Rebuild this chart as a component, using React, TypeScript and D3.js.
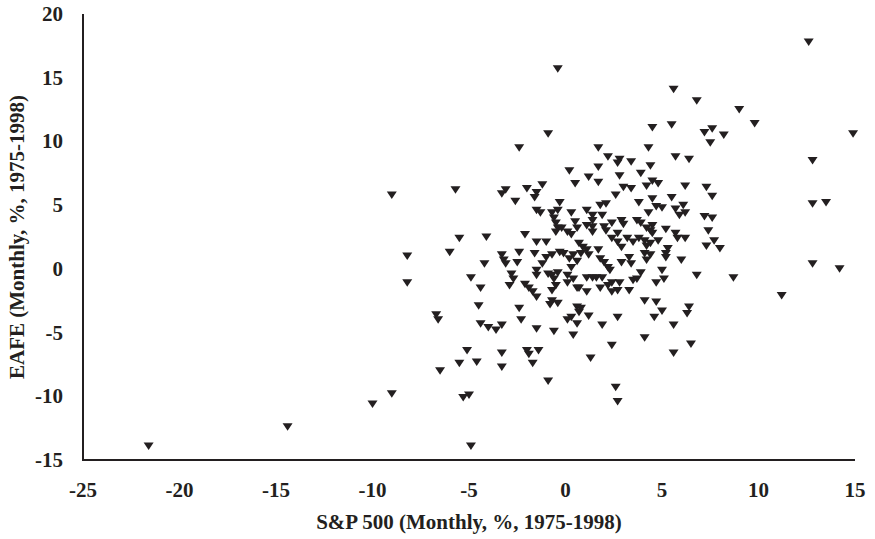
import React from 'react';
import * as d3 from 'd3';

// S&P 500 monthly return (%), one entry per month
const sp500: number[] = [
  -21.6, -14.4, -10.0, -9.0, -9.0, -8.2, -8.2, -6.7, -6.6, -6.5,
  -5.7, -5.5, -6.0, -5.5, -5.1, -5.3, -5.0, -4.9, -4.9, -4.4,
  -4.5, -4.1, -4.2, -4.4, -4.0, -3.6, -3.3, -4.6, -3.3, -3.3,
  -2.0, -1.9, -1.4, -1.7, -0.9, -0.4, -0.9, -2.4, 0.2, 0.5,
  -3.1, -3.3, -2.0, -1.2, -1.5, -1.6, -2.6, -0.3, -1.5, -1.3,
  -0.7, -0.4, -0.6, 0.3, 0.5, -0.5, -0.4, -0.5, -0.2, 0.1,
  0.3, 0.6, -2.1, -1.5, -1.0, -3.3, -3.2, -3.1, -2.4, -2.5,
  -1.6, -1.0, -0.7, -0.3, -0.1, 0.2, 0.4, 0.6, -1.2, -1.5,
  -1.5, -2.8, -2.7, -2.9, -2.1, -1.9, -1.7, -0.9, -0.7, -0.4,
  -0.6, -0.5, -0.7, 0.1, 0.3, 0.4, 0.1, 0.6, -1.5, -0.7,
  -0.4, -0.8, -2.4, 0.6, -2.3, -1.5, -0.6, 0.1, 0.3, 0.6,
  0.4, 1.8, 2.1, 1.1, 1.4, 1.4, 1.1, 1.4, 1.4, 1.9,
  2.4, 2.0, 2.1, 2.9, 3.0, 3.7, 3.9, 4.3, 4.5, 4.4,
  4.5, 4.2, 3.8, 4.7, 5.0, 5.7, 5.9, 6.1, 6.2, 5.2,
  5.7, 5.8, 6.2, 7.2, 7.6, 7.4, 7.7, 7.3, 8.0, 2.7,
  2.7, 2.4, 2.9, 3.2, 3.5, 3.8, 4.1, 4.2, 4.4, 4.8,
  5.3, 5.2, 5.2, 0.7, 0.9, 1.1, 0.8, 1.2, 1.8, 2.0,
  2.2, 2.3, 1.7, 2.9, 3.3, 3.4, 4.1, 4.2, 4.4, 6.0,
  3.9, 5.0, 5.1, 6.8, 8.7, 1.1, 1.4, 1.6, 1.9, 3.5,
  3.7, 4.7, 0.7, 1.1, 1.8, 2.2, 2.4, 2.4, 2.7, 2.8,
  3.3, 4.1, 4.7, 5.0, 6.4, 6.3, 0.8, 1.2, 2.7, 4.6,
  1.9, 5.6, 4.1, 0.7, 2.4, 1.3, 5.6, 6.5, 2.6, 2.7,
  5.6, 6.8, 9.0, 9.8, 4.5, 5.5, 7.2, 7.6, 8.2, 7.5,
  1.7, 4.3, 2.2, 2.8, 2.7, 3.4, 5.7, 6.4, 1.7, 4.4,
  3.9, 2.8, 1.2, 1.7, 3.0, 3.4, 4.2, 4.5, 4.8, 6.2,
  7.3, 7.6, 2.6, 4.5, 5.5, 12.6, 14.9, 12.8, 12.8, 13.5,
  12.8, 14.2, 11.2
];

// EAFE monthly return (%), paired with sp500
const eafe: number[] = [
  -13.9, -12.4, -10.6, -9.8, 5.8, 1.0, -1.1, -3.6, -4.0, -8.0,
  6.2, 2.4, 1.3, -7.4, -6.4, -10.1, -9.9, -13.9, -0.7, -1.5,
  -2.9, 2.5, 0.4, -4.3, -4.6, -4.8, -4.4, -7.3, -6.6, -7.7,
  -6.4, -6.7, -6.4, -7.4, -8.8, 15.7, 10.6, 9.5, 7.7, 6.7,
  6.2, 5.9, 6.3, 6.6, 6.0, 5.6, 5.3, 5.2, 4.6, 4.4,
  4.4, 4.6, 4.0, 4.4, 3.7, 3.6, 3.2, 2.9, 3.2, 2.9,
  2.7, 3.2, 2.7, 2.1, 2.1, 1.1, 0.7, 0.4, 1.3, 0.5,
  1.2, 0.9, 1.1, 1.3, 1.2, 0.8, 1.1, 0.6, 0.4, -0.1,
  -0.5, -0.4, -0.8, -1.3, -1.2, -1.5, -1.8, -0.4, -0.5, -0.3,
  -0.8, -1.3, -1.7, -0.5, 0.1, -0.8, -1.1, -1.5, -2.2, -2.5,
  -2.7, -2.8, -3.1, -3.0, -4.0, -4.7, -4.9, -4.0, -3.8, -4.3,
  -5.2, 5.0, 5.1, 4.6, 4.2, 3.8, 3.4, 3.3, 2.9, 4.2,
  3.6, 3.3, 3.0, 3.8, 3.5, 3.8, 3.6, 4.4, 3.4, 3.0,
  2.8, 3.2, 5.2, 4.9, 4.8, 4.7, 4.2, 5.0, 4.4, 3.1,
  2.8, 2.4, 2.4, 4.1, 4.0, 3.0, 2.2, 1.8, 1.6, 2.8,
  2.1, 2.4, 1.7, 2.4, 2.1, 2.4, 2.2, 1.8, 2.0, 2.2,
  1.6, 1.2, 0.9, 2.0, 1.7, 1.5, 1.2, 1.1, 0.8, 0.5,
  0.1, -0.1, 1.5, 0.5, 0.9, 0.4, 1.2, 0.7, 1.1, 0.7,
  -0.3, -0.1, -0.8, -0.5, -0.7, -0.7, -0.7, -0.7, -0.7, -0.9,
  -0.8, -1.1, -1.5, -1.8, -1.5, -1.3, -1.1, -1.8, -1.7, -1.1,
  -1.7, -2.5, -2.6, -3.3, -3.0, -3.5, -3.1, -3.7, -3.8, -3.8,
  -4.4, -4.4, -5.4, -3.4, -6.0, -7.0, -6.6, -5.9, -9.3, -10.4,
  14.1, 13.2, 12.5, 11.4, 11.1, 11.3, 10.7, 11.0, 10.5, 9.9,
  9.5, 9.5, 8.8, 8.6, 8.3, 8.4, 8.8, 8.6, 8.0, 8.1,
  7.5, 7.3, 7.2, 6.8, 6.4, 6.3, 6.5, 6.9, 6.7, 6.5,
  6.4, 5.7, 5.8, 5.5, 5.6, 17.8, 10.6, 8.5, 5.1, 5.2,
  0.4, 0.0, -2.1
];

const xTicks: number[] = [-25, -20, -15, -10, -5, 0, 5, 10, 15];
const yTicks: number[] = [-15, -10, -5, 0, 5, 10, 15, 20];
const xTitle = 'S&P 500 (Monthly, %, 1975-1998)';
const yTitle = 'EAFE (Monthly, %, 1975-1998)';

export default function App() {
  const W = 875;
  const H = 539;
  const left = 83, right = 855, top = 14, bottom = 460;
  const x = d3.scaleLinear().domain([-25, 15]).range([left, right]);
  const y = d3.scaleLinear().domain([-15, 20]).range([bottom, top]);
  const ink = '#231f20';
  const font = '"Liberation Serif", "Times New Roman", serif';
  const tri = 'M-5,-3.5L5,-3.5L0,4Z';
  const n = Math.min(sp500.length, eafe.length);
  const pts = d3.range(n).map((i) => ({ a: sp500[i], b: eafe[i] }));

  return (
    <svg
      width={W}
      height={H}
      viewBox={`0 0 ${W} ${H}`}
      style={{ position: 'absolute', left: 0, top: 0, background: '#fff' }}
    >
      <rect x={0} y={0} width={W} height={H} fill="#fff" />
      {pts.map((p, i) => (
        <path key={i} d={tri} transform={`translate(${x(p.a)},${y(p.b)})`} fill={ink} />
      ))}
      <line x1={left} x2={left} y1={top} y2={bottom + 1} stroke={ink} strokeWidth={2} />
      <line x1={left - 1} x2={right} y1={bottom} y2={bottom} stroke={ink} strokeWidth={2} />
      {yTicks.map((t) => (
        <text
          key={`y${t}`}
          x={63}
          y={y(t)}
          textAnchor="end"
          dominantBaseline="central"
          fontFamily={font}
          fontWeight="bold"
          fontSize={21}
          fill={ink}
        >
          {t}
        </text>
      ))}
      {xTicks.map((t) => (
        <text
          key={`x${t}`}
          x={x(t)}
          y={490}
          textAnchor="middle"
          dominantBaseline="central"
          fontFamily={font}
          fontWeight="bold"
          fontSize={21}
          fill={ink}
        >
          {t}
        </text>
      ))}
      <text
        x={(left + right) / 2}
        y={522}
        textAnchor="middle"
        dominantBaseline="central"
        fontFamily={font}
        fontWeight="bold"
        fontSize={21}
        fill={ink}
      >
        {xTitle}
      </text>
      <text
        transform={`translate(17,${(top + bottom) / 2}) rotate(-90)`}
        textAnchor="middle"
        dominantBaseline="central"
        fontFamily={font}
        fontWeight="bold"
        fontSize={21}
        fill={ink}
      >
        {yTitle}
      </text>
    </svg>
  );
}
